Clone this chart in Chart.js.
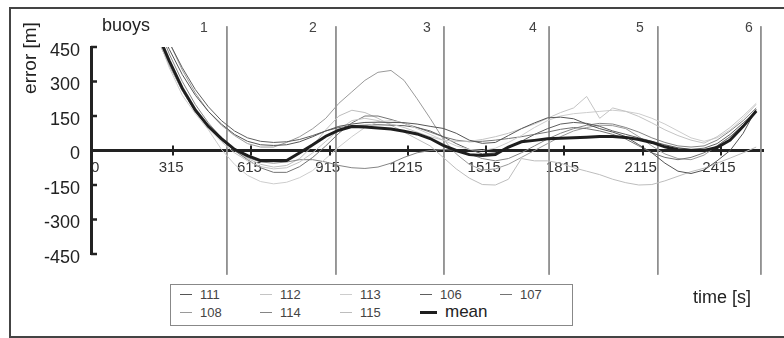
<!DOCTYPE html>
<html>
<head>
<meta charset="utf-8">
<script src="https://cdn.jsdelivr.net/npm/chart.js@4/dist/chart.umd.min.js"></script>
<style>
html,body{margin:0;padding:0;background:#fff;}
#wrap{position:relative;width:784px;height:338px;overflow:hidden;font-family:"Liberation Sans",Arial,sans-serif;}
#frame{position:absolute;left:9px;top:7px;width:820px;height:331px;border:2px solid #444;box-sizing:border-box;}
#c{position:absolute;left:0;top:0;}
#legend{position:absolute;left:170px;top:284px;width:403px;height:42px;border:1px solid #888;box-sizing:border-box;background:#fff;}
.li{position:absolute;display:flex;align-items:center;height:16px;white-space:nowrap;}
.li .sw{display:inline-block;height:0;margin-right:8px;}
</style>
</head>
<body>
<div id="wrap">
  <div id="frame"></div>
  <canvas id="c" width="784" height="338"></canvas>
  <div id="legend"></div>
</div>
<script>
// ---- data ----
const times = [250,300,350,400,450,500,550,600,650,700,750,800,850,900,950,1000,1050,1100,1150,1200,1250,1300,1350,1400,1450,1500,1550,1600,1650,1700,1750,1800,1850,1900,1950,2000,2050,2100,2150,2200,2250,2300,2350,2400,2450,2500,2550];

const err111 = [560,440,330,240,170,115,70,40,25,22,25,38,60,85,105,115,122,123,122,121,115,105,96,75,45,31,35,65,95,120,142,145,138,115,95,80,60,25,-10,-55,-90,-100,-85,-45,0,75,180];
const err112 = [500,370,260,170,95,38,-10,-45,-70,-80,-75,-50,-10,40,90,130,140,130,115,100,80,60,45,40,40,48,60,75,95,115,140,165,185,235,140,185,170,148,120,90,65,45,32,60,100,150,205];
const err113 = [510,360,240,160,90,5,-60,-108,-135,-145,-138,-118,-87,-35,15,60,100,125,130,120,95,70,45,20,5,0,10,35,65,100,130,150,160,165,170,175,170,160,140,115,85,55,40,55,90,140,200];
const err106 = [590,470,360,265,190,130,85,55,40,35,38,48,65,85,100,108,110,112,110,108,100,85,60,30,5,-15,-10,10,40,70,95,115,122,118,105,85,70,55,40,25,12,5,10,30,70,120,170];
const err107 = [500,370,260,170,100,45,0,-40,-75,-95,-95,-70,-30,20,75,120,150,150,135,118,100,80,60,45,38,40,45,52,60,70,80,92,100,95,85,70,50,20,-10,-30,-40,-30,-10,20,60,110,170];
const err108 = [600,470,350,250,170,110,65,30,15,15,35,60,95,140,205,255,305,340,348,305,225,140,50,-15,-60,-85,-80,-60,-30,0,30,60,85,100,110,108,95,60,20,-15,-35,-40,-20,20,60,110,175];
const err114 = [560,420,300,200,120,55,5,-30,-50,-55,-50,-40,-40,-50,-65,-75,-78,-72,-55,-30,-10,0,5,0,-15,-35,-45,-35,-10,20,50,75,95,110,118,115,100,80,55,35,20,15,20,45,85,130,185];
const err115 = [520,390,280,185,110,50,0,-35,-60,-72,-65,-35,20,90,150,175,165,140,110,80,50,20,-30,-80,-120,-148,-150,-125,-35,-45,-45,-55,-75,-90,-105,-125,-140,-150,-148,-132,-112,-92,-77,-55,-33,-10,15];
const errMean = [520,390,270,175,105,52,5,-22,-44,-44,-44,-10,25,62,88,104,102,98,93,84,72,52,22,0,-18,-22,-17,15,38,44,51,53,55,58,61,61,57,48,35,16,3,0,0,13,45,105,172];

const seriesNames = ['111','112','113','106','107','108','114','115','mean'];
const seriesValues = [err111,err112,err113,err106,err107,err108,err114,err115,errMean];

const buoyTimes = [521,939,1353,1756,2173,2568];
const buoyLabels = ['1','2','3','4','5','6'];
const buoyLabelAt = [433,851,1288,1694,2104,2522];

const xTicks = [0,315,615,915,1215,1515,1815,2115,2415];
const yTicks = [-450,-300,-150,0,150,300,450];

// ---- styles ----
const FONT = '"Liberation Sans", Arial, sans-serif';
const seriesStyle = {
  '111':{color:'#555555',width:1},
  '112':{color:'#c4c4c4',width:1},
  '113':{color:'#cdcdcd',width:1},
  '106':{color:'#5e5e5e',width:1},
  '107':{color:'#747474',width:1},
  '108':{color:'#9a9a9a',width:1},
  '114':{color:'#858585',width:1},
  '115':{color:'#bdbdbd',width:1},
  'mean':{color:'#1e1e1e',width:3}
};
const BUOY_EXTENT = 540;

const datasets = seriesNames.map((name,k)=>({
  label:name,
  data:times.map((t,i)=>({x:t,y:seriesValues[k][i]})),
  borderColor:seriesStyle[name].color,
  borderWidth:seriesStyle[name].width,
  pointRadius:0,
  tension:0,
  fill:false,
  inLegend:true,
  order: name==='mean' ? 0 : 1
}));
buoyTimes.forEach(t=>{
  datasets.push({
    label:'buoy',
    data:[{x:t,y:BUOY_EXTENT},{x:t,y:-BUOY_EXTENT}],
    borderColor:'#8a8a8a',
    borderWidth:1,
    pointRadius:0,
    clip:false,
    inLegend:false,
    order:2
  });
});

const decor = {
  id:'decor',
  afterDraw(chart){
    const {ctx} = chart;
    const x = chart.scales.x, y = chart.scales.y;
    const y0 = y.getPixelForValue(0);
    ctx.save();
    ctx.strokeStyle = '#222';
    ctx.lineWidth = 2;
    xTicks.forEach(v=>{
      if (v===0) return;
      const px = Math.round(x.getPixelForValue(v));
      ctx.beginPath(); ctx.moveTo(px, y0-5); ctx.lineTo(px, y0+5); ctx.stroke();
    });
    ctx.lineWidth = 2.5;
    yTicks.forEach(v=>{
      const py = y.getPixelForValue(v);
      ctx.beginPath(); ctx.moveTo(x.left, py); ctx.lineTo(x.left+6, py); ctx.stroke();
    });
    ctx.fillStyle = '#444';
    ctx.font = '14px ' + FONT;
    ctx.textAlign = 'center';
    ctx.textBaseline = 'middle';
    buoyLabels.forEach((l,i)=>ctx.fillText(l, x.getPixelForValue(buoyLabelAt[i]), 28));
    ctx.fillStyle = '#222';
    ctx.font = '18px ' + FONT;
    ctx.textAlign = 'left';
    ctx.fillText('buoys', 102, 26);
    ctx.fillText('time [s]', 693, 298);
    ctx.translate(31, 58);
    ctx.rotate(-Math.PI/2);
    ctx.textAlign = 'center';
    ctx.font = '19px ' + FONT;
    ctx.fillText('error [m]', 0, 0);
    ctx.restore();
  }
};

const htmlLegend = {
  id:'htmlLegend',
  afterUpdate(chart){
    const box = document.getElementById('legend');
    box.innerHTML = '';
    chart.data.datasets.filter(d=>d.inLegend).forEach((d,i)=>{
      const row = Math.floor(i/5), col = i%5;
      const item = document.createElement('div');
      item.className = 'li';
      item.style.left = (9 + col*80) + 'px';
      item.style.top = (row ? 19 : 1) + 'px';
      const sw = document.createElement('span');
      sw.className = 'sw';
      const isMean = d.label === 'mean';
      sw.style.width = (isMean ? 17 : 12) + 'px';
      sw.style.borderTop = d.borderWidth + 'px solid ' + d.borderColor;
      const tx = document.createElement('span');
      tx.textContent = d.label;
      tx.style.fontSize = (isMean ? 17 : 13) + 'px';
      tx.style.color = isMean ? '#222' : '#444';
      item.appendChild(sw); item.appendChild(tx);
      box.appendChild(item);
    });
  }
};

new Chart(document.getElementById('c'), {
  type:'line',
  data:{datasets},
  plugins:[decor, htmlLegend],
  options:{
    responsive:false,
    animation:false,
    events:[],
    layout:{padding:{top:47,bottom:84,right:21,left:0}},
    plugins:{legend:{display:false},tooltip:{enabled:false}},
    scales:{
      x:{
        type:'linear',
        position:{y:0},
        min:0, max:2576,
        afterBuildTicks:s=>{ s.ticks = xTicks.map(v=>({value:v})); },
        grid:{display:false, drawTicks:false},
        border:{display:true, color:'#222', width:3},
        ticks:{
          padding:8, labelOffset:-2, color:'#333',
          font:{size:15, family:FONT},
          maxRotation:0, autoSkip:false,
          callback:v=> v===0 ? '   0' : String(v)
        }
      },
      y:{
        type:'linear',
        position:'left',
        min:-450, max:450,
        afterBuildTicks:s=>{ s.ticks = yTicks.map(v=>({value:v})); },
        afterFit:s=>{ s.width = 91; },
        grid:{display:false, drawTicks:false},
        border:{display:true, color:'#222', width:3},
        ticks:{
          padding:11, labelOffset:4, color:'#222',
          font:{size:18, family:FONT},
          callback:v=>String(v)
        }
      }
    }
  }
});
</script>
</body>
</html>
